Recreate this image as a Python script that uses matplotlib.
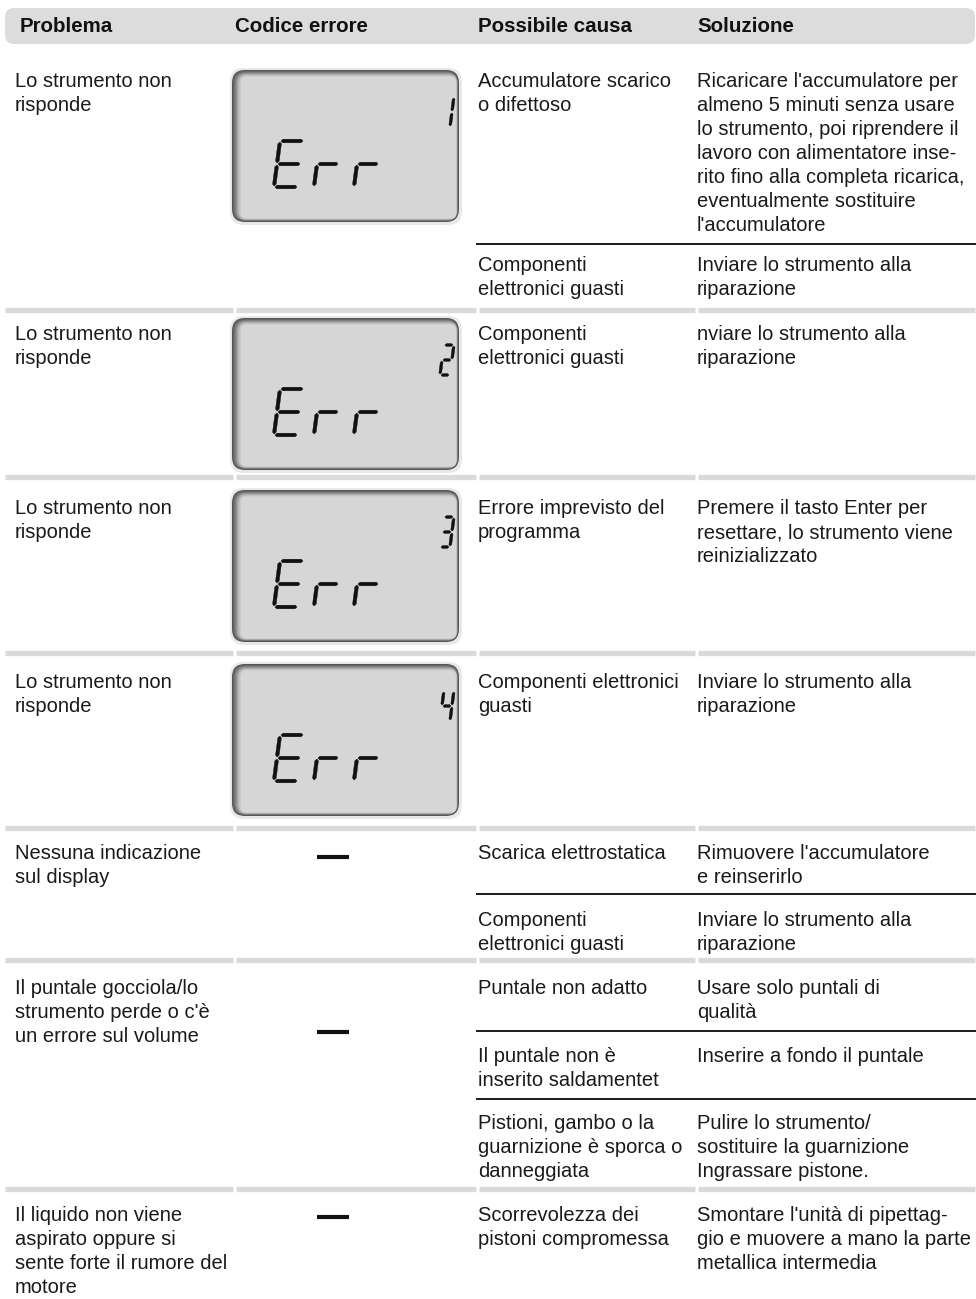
import matplotlib.pyplot as plt
from matplotlib.patches import FancyBboxPatch, Polygon
from matplotlib import font_manager

# table content
headers = ["Problema", "Codice errore", "Possibile causa", "Soluzione"]

problems = [
    "Lo strumento non\nrisponde",
    "Lo strumento non\nrisponde",
    "Lo strumento non\nrisponde",
    "Lo strumento non\nrisponde",
    "Nessuna indicazione\nsul display",
    "Il puntale gocciola/lo\nstrumento perde o c'è\nun errore sul volume",
    "Il liquido non viene\naspirato oppure si\nsente forte il rumore del\nmotore",
]

error_codes = ["1", "2", "3", "4", None, None, None]

causes = [
    ["Accumulatore scarico\no difettoso", "Componenti\nelettronici guasti"],
    ["Componenti\nelettronici guasti"],
    ["Errore imprevisto del\nprogramma"],
    ["Componenti elettronici\nguasti"],
    ["Scarica elettrostatica", "Componenti\nelettronici guasti"],
    ["Puntale non adatto", "Il puntale non è\ninserito saldamentet",
     "Pistioni, gambo o la\nguarnizione è sporca o\ndanneggiata"],
    ["Scorrevolezza dei\npistoni compromessa"],
]

solutions = [
    ["Ricaricare l'accumulatore per\nalmeno 5 minuti senza usare\nlo strumento, poi riprendere il\n"
     "lavoro con alimentatore inse-\nrito fino alla completa ricarica,\neventualmente sostituire\nl'accumulatore",
     "Inviare lo strumento alla\nriparazione"],
    ["nviare lo strumento alla\nriparazione"],
    ["Premere il tasto Enter per\nresettare, lo strumento viene\nreinizializzato"],
    ["Inviare lo strumento alla\nriparazione"],
    ["Rimuovere l'accumulatore\ne reinserirlo", "Inviare lo strumento alla\nriparazione"],
    ["Usare solo puntali di\nqualità", "Inserire a fondo il puntale",
     "Pulire lo strumento/\nsostituire la guarnizione\nIngrassare pistone."],
    ["Smontare l'unità di pipettag-\ngio e muovere a mano la parte\nmetallica intermedia"],
]

# layout (pixels)
W, H = 976, 1299
col_x = [15, 232, 478, 697]
head_x = [20, 235, 478, 697]
row_sep = [None, 310, 477, 653, 828, 960, 1189]
row_base = [87, 340, 514, 688, 859, 994, 1221]
sub_lines = {0: [244], 4: [894], 5: [1031, 1099]}
sub_base = {0: [271], 4: [926], 5: [1062, 1129]}
lcd_top = [70, 318, 490, 664]
dash_y = [857, 1032, 1217]
line_h = 24


def pick_font(names):
    for n in names:
        try:
            font_manager.findfont(n, fallback_to_default=False)
            return n
        except Exception:
            pass
    return "DejaVu Sans"


body_font = pick_font(["Liberation Sans", "Arial"])
FS = 14.5

fig = plt.figure(figsize=(W / 100, H / 100), dpi=100)
ax = fig.add_axes([0, 0, 1, 1])
ax.set_xlim(0, W)
ax.set_ylim(H, 0)
ax.axis("off")


def put_lines(x, y, text, **kw):
    for i, line in enumerate(text.split("\n")):
        ax.text(x, y + i * line_h, line, ha="left", va="baseline",
                fontsize=FS, family=body_font, color="#1a1a1a", **kw)


CHARS = {"E": "adefg", "r": "eg", "1": "bc", "2": "abged", "3": "abgcd", "4": "fgbc"}


def seg_points(s, w, h, t, g):
    # hexagon for one segment, in cell pixels (x right, v up)
    m = h / 2.0
    if s in "agd":
        v = {"a": h, "g": m, "d": 0}[s]
        u0, u1 = g, w - g
        return [(u0, v), (u0 + t / 2, v + t / 2), (u1 - t / 2, v + t / 2),
                (u1, v), (u1 - t / 2, v - t / 2), (u0 + t / 2, v - t / 2)]
    u = 0 if s in "ef" else w
    v0, v1 = (g, m - g) if s in "ce" else (m + g, h - g)
    return [(u, v0), (u + t / 2, v0 + t / 2), (u + t / 2, v1 - t / 2),
            (u, v1), (u - t / 2, v1 - t / 2), (u - t / 2, v0 + t / 2)]


def seven_seg(ch, x, ybot, w, h, t, slant=0.13):
    for s in CHARS[ch]:
        pts = [(x + u + slant * v, ybot - v) for u, v in seg_points(s, w, h, t, 1.0)]
        ax.add_patch(Polygon(pts, closed=True, fc="#111111", ec="#111111",
                             lw=0.3, zorder=5))


def draw_lcd(top, code):
    x0, w, h = 232, 227, 152
    # soft outer shadow
    ax.add_patch(FancyBboxPatch((x0 - 2, top - 2), w + 5, h + 5,
                                boxstyle="round,pad=0,rounding_size=14",
                                fc="#e8e8e8", ec="none", zorder=1))
    ax.add_patch(FancyBboxPatch((x0, top), w, h,
                                boxstyle="round,pad=0,rounding_size=13",
                                fc="#555555", ec="none", zorder=2))
    shades = ["#666666", "#7a7a7a", "#8f8f8f", "#a5a5a5", "#b9b9b9", "#c9c9c9", "#d6d6d6"]
    for k, c in enumerate(shades):
        l = 1 + k * 1.3
        t = 1 + k * 0.9
        r = 1 + k * 0.3
        b = 1 + k * 0.4
        ax.add_patch(FancyBboxPatch((x0 + l, top + t), w - l - r, h - t - b,
                                    boxstyle="round,pad=0,rounding_size=%.1f" % max(12 - k, 5),
                                    fc=c, ec="none", zorder=3))
    # "Err"
    for i, ch in enumerate("Err"):
        cw = 24 if ch == "E" else 22
        seven_seg(ch, x0 + 42 + i * 40, top + h - 35, cw, 46, 3.6)
    # error number
    seven_seg(code, x0 + 208, top + 57, 10, 30, 2.8)


# header bar
ax.add_patch(FancyBboxPatch((5, 8), 970, 36, boxstyle="round,pad=0,rounding_size=9",
                            fc="#dcdcdc", ec="none"))
for hx, label in zip(head_x, headers):
    ax.text(hx, 26.5, label, ha="left", va="center", fontsize=14.8,
            family=body_font, fontweight="bold", color="#111111")

# gray row separators, slightly broken at column edges
for ys in row_sep:
    if ys is None:
        continue
    for a, b in [(5, 233), (236, 476), (479, 695), (698, 975)]:
        ax.plot([a, b], [ys, ys], color="#dadada", lw=3.8, solid_capstyle="butt")

dash_i = 0
for i, prob in enumerate(problems):
    put_lines(col_x[0], row_base[i], prob)

    if error_codes[i] is not None:
        draw_lcd(lcd_top[i], error_codes[i])
    else:
        ax.plot([317, 349], [dash_y[dash_i]] * 2, color="#111111", lw=3.0,
                solid_capstyle="butt")
        dash_i += 1

    bases = [row_base[i]] + sub_base.get(i, [])
    for ln in sub_lines.get(i, []):
        ax.plot([477, 975], [ln, ln], color="#1a1a1a", lw=1.4)
    for cause, sol, yb in zip(causes[i], solutions[i], bases):
        put_lines(col_x[2], yb, cause)
        put_lines(col_x[3], yb, sol)

fig.savefig("out.png", dpi=100)
